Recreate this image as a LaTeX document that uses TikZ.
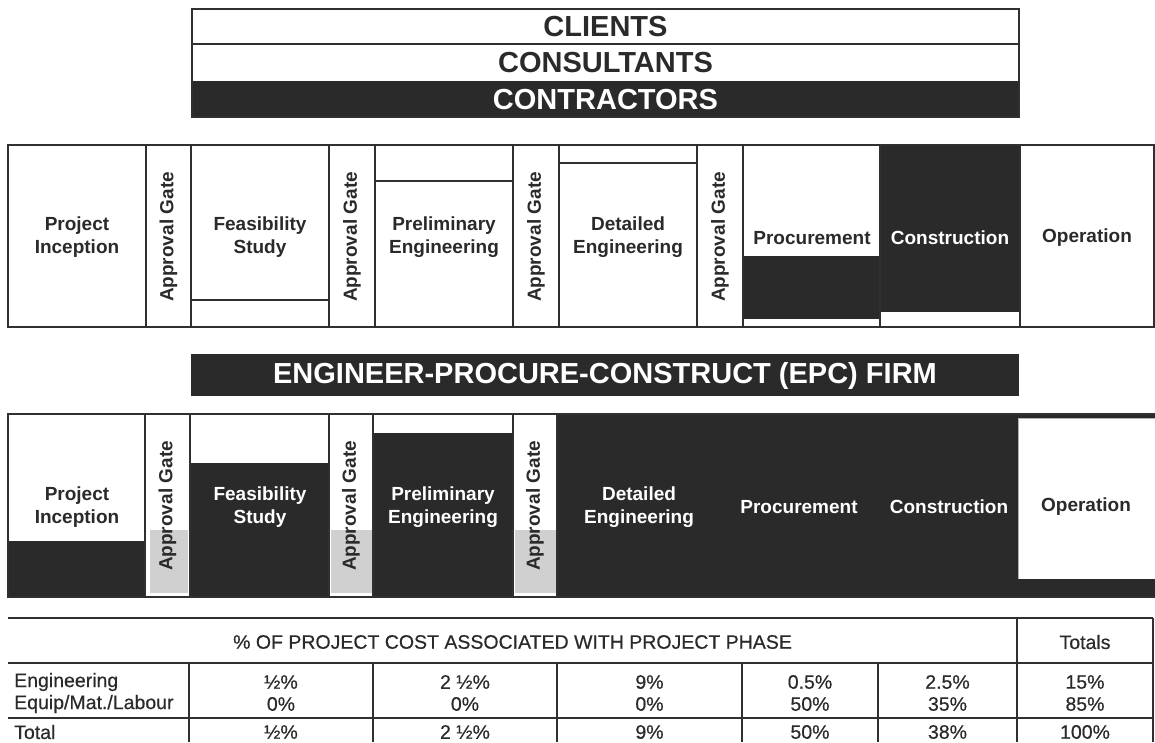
\documentclass[tikz,border=0pt]{standalone}
\usepackage{fontspec}
\setmainfont{Liberation Sans}
\newfontfamily\medfont[FakeBold=0.5]{Liberation Sans}
\definecolor{dark}{HTML}{2A2A2A}
\definecolor{linec}{HTML}{303030}
\definecolor{gatefill}{HTML}{D0D0D0}
\begin{document}
\begin{tikzpicture}[x=1pt,y=-1pt,
  ink/.style={draw=linec, line width=1.4pt},
  thin/.style={draw=linec, line width=1.1pt},
  phase/.style={font=\fontsize{19}{23}\selectfont\bfseries, align=center, text=dark, inner sep=0pt},
  phasew/.style={phase, text=white},
  gatelbl/.style={font=\fontsize{19}{23}\selectfont\bfseries, rotate=90, text=dark, inner sep=0pt},
  band/.style={font=\fontsize{29}{29}\selectfont\bfseries, inner sep=0pt},
  cell/.style={font=\medfont\fontsize{19.5}{23}\selectfont, text=dark, inner sep=0pt},
  rowlbl/.style={cell, anchor=west}]
\useasboundingbox (0,0) rectangle (1155,742);

% ---------------- stakeholder legend ----------------
\fill[dark] (192,81) rectangle (1019,117);
\draw[ink] (192,9) rectangle (1019,117);
\draw[ink] (192,44) -- (1019,44);
\node[band, text=dark] (clients) at (605.5,27) {CLIENTS};
\node[band, text=dark] (consult) at (605.5,63) {CONSULTANTS};
\node[band, text=white] (contract) at (605.5,100) {CONTRACTORS};

% ---------------- conventional route ----------------
\fill[dark] (743,256) rectangle (880,319);
\fill[dark] (880,145) rectangle (1020,312);
\foreach \a/\b in {8/146,146/191,191/329,329/375,375/513,513/559,559/697,697/743,743/880,880/1020,1020/1154}
  \draw[ink] (\a,145) rectangle (\b,327);
\draw[thin] (191,300) -- (329,300);
\draw[thin] (375,181) -- (513,181);
\draw[thin] (559,163) -- (697,163);

\node[phase] (t-inc) at (77,237) {Project\\Inception};
\node[gatelbl] (t-g1) at (168.5,237) {Approval Gate};
\node[phase] (t-fea) at (260,237) {Feasibility\\Study};
\node[gatelbl] (t-g2) at (352,237) {Approval Gate};
\node[phase] (t-pre) at (444,237) {Preliminary\\Engineering};
\node[gatelbl] (t-g3) at (536,237) {Approval Gate};
\node[phase] (t-det) at (628,237) {Detailed\\Engineering};
\node[gatelbl] (t-g4) at (720,237) {Approval Gate};
\node[phase] (t-pro) at (812,238) {Procurement};
\node[phasew] (t-con) at (950,238) {Construction};
\node[phase] (t-ope) at (1087,238) {Operation};

% ---------------- EPC banner ----------------
\fill[dark] (191,354) rectangle (1019,396);
\node[band, text=white] (epc) at (605,376) {ENGINEER-PROCURE-CONSTRUCT (EPC) FIRM};

% ---------------- EPC route ----------------
\fill[dark] (8,541) rectangle (145,597);
\fill[dark] (190,463) rectangle (329,597);
\fill[dark] (373,433) rectangle (513,597);
\fill[dark] (557,414) rectangle (1155,597);
\fill[gatefill] (150,530) rectangle (188,593);
\fill[gatefill] (331,530) rectangle (372,593);
\fill[gatefill] (515,530) rectangle (556,593);
\foreach \a/\b in {8/145,145/190,190/329,329/373,373/513,513/557}
  \draw[ink] (\a,414) rectangle (\b,597);
\draw[ink] (557,414) -- (1155,414);
\draw[ink] (557,597) -- (1155,597);
\fill[white] (1018,418) rectangle (1155,579);
\draw[draw=gray!60, line width=1pt] (1018,579) -- (1018,418) -- (1155,418);

\node[phase] (b-inc) at (77,507) {Project\\Inception};
\node[gatelbl] (b-g1) at (167.5,506) {Approval Gate};
\node[phasew] (b-fea) at (260,507) {Feasibility\\Study};
\node[gatelbl] (b-g2) at (351,506) {Approval Gate};
\node[phasew] (b-pre) at (443,507) {Preliminary\\Engineering};
\node[gatelbl] (b-g3) at (535,506) {Approval Gate};
\node[phasew] (b-det) at (639,507) {Detailed\\Engineering};
\node[phasew] (b-pro) at (799,507) {Procurement};
\node[phasew] (b-con) at (949,507) {Construction};
\node[phase] (b-ope) at (1086,507) {Operation};

% ---------------- cost table ----------------
\draw[ink] (8,618) -- (1153,618);
\draw[ink] (8,663) -- (1153,663);
\draw[ink] (8,718) -- (1153,718);
\draw[ink] (1017,618) -- (1017,742);
\draw[ink] (1153,618) -- (1153,742);
\foreach \x in {189,373,557,742,878}
  \draw[ink] (\x,663) -- (\x,742);

\node[cell] (hdr) at (512.5,642) {\% OF PROJECT COST ASSOCIATED WITH PROJECT PHASE};
\node[cell] (tot) at (1085,642) {Totals};

\node[rowlbl] (r-eng) at (14,682) {Engineering};
\node[rowlbl] (r-eq) at (14,704) {Equip/Mat./Labour};
\node[rowlbl] (r-tot) at (14,732) {Total};

\foreach \x/\e/\m/\t [count=\i] in {281/½\%/0\%/½\%, 465/2 ½\%/0\%/2 ½\%, 649.5/9\%/0\%/9\%,
    810/0.5\%/50\%/50\%, 947.5/2.5\%/35\%/38\%, 1085/15\%/85\%/100\%}{
  \node[cell] (e\i) at (\x,682) {\e};
  \node[cell] (m\i) at (\x,704) {\m};
  \node[cell] (s\i) at (\x,732) {\t};
}
\end{tikzpicture}
\end{document}
